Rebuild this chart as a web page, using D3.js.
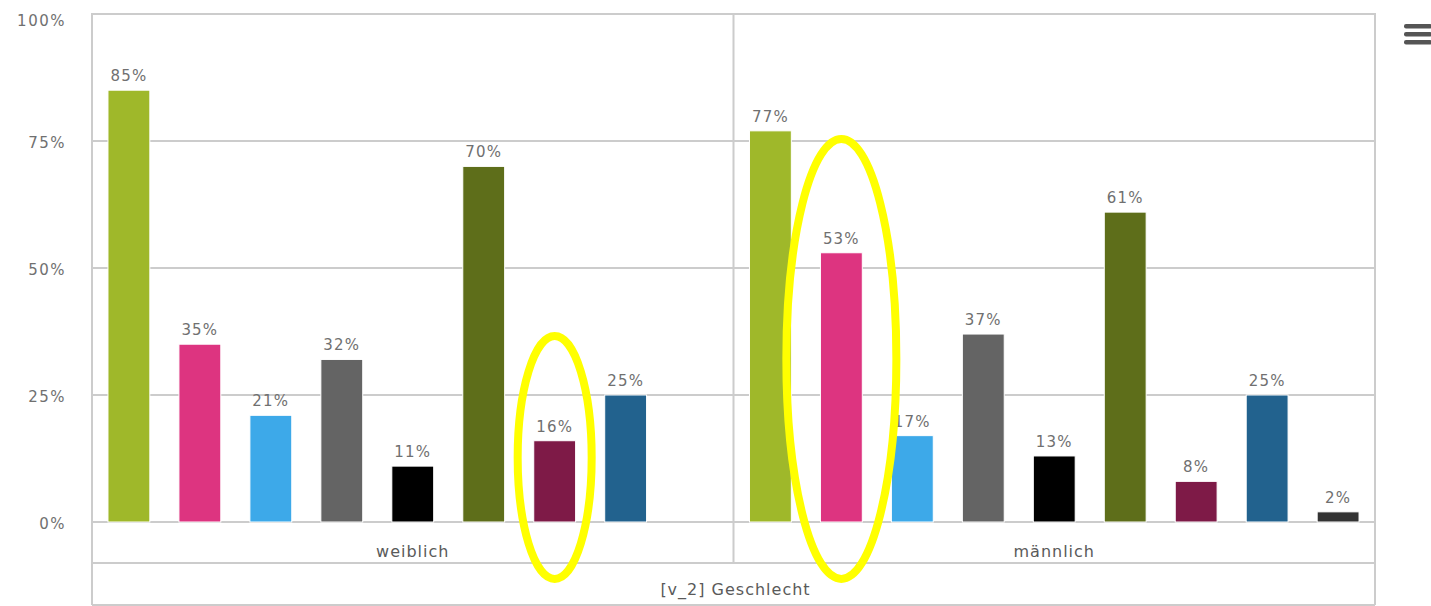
<!DOCTYPE html>
<html>
<head>
<meta charset="utf-8">
<script src="https://cdn.jsdelivr.net/npm/d3@7"></script>
<style>
  html, body { margin: 0; padding: 0; background: #fff; }
  svg text { font-family: "DejaVu Sans", sans-serif; }
</style>
</head>
<body>
<svg id="chart" width="1431" height="606"></svg>
<script>
// ---- data ----
const groups = ["weiblich", "männlich"];
const seriesNames = ["s1", "s2", "s3", "s4", "s5", "s6", "s7", "s8", "s9"];
const seriesColors = ["#9fb82a", "#dd3480", "#3da9e9", "#646464", "#000000", "#5e6e1a", "#7e1a47", "#22628e", "#333333"];
const valuesWeiblich = [85, 35, 21, 32, 11, 70, 16, 25, null];
const valuesMaennlich = [77, 53, 17, 37, 13, 61, 8, 25, 2];
const yTicks = [0, 25, 50, 75, 100];
const axisTitle = "[v_2] Geschlecht";
// annotation ellipses: group, series, y-extent in percent units
const highlights = [
  { group: "weiblich", series: "s7", yTop: 36.6, yBottom: -11.2, halfWidth: 37 },
  { group: "männlich", series: "s2", yTop: 75.4, yBottom: -11.2, halfWidth: 55 }
];

const table = [];
groups.forEach((g, gi) => {
  const vals = gi === 0 ? valuesWeiblich : valuesMaennlich;
  seriesNames.forEach((s, si) => table.push({ group: g, series: s, value: vals[si], color: seriesColors[si] }));
});

// ---- layout ----
const svg = d3.select("#chart");
const pLeft = 92, pRight = 1375, pTop = 14, pBottom = 522;
const row1 = 563, row2 = 605;

const x0 = d3.scaleBand().domain(groups).range([pLeft, pRight]).padding(0);
const x1 = d3.scaleBand().domain(seriesNames).range([0, x0.bandwidth()]).paddingInner(0.41).paddingOuter(0.225);
const y = d3.scaleLinear().domain([0, 100]).range([pBottom, pTop]);

const grid = "#cccccc";
const textCol = "#707070";

// gridlines
svg.append("g").selectAll("line").data(yTicks.filter(t => t > 0 && t < 100)).join("line")
  .attr("x1", pLeft).attr("x2", pRight)
  .attr("y1", d => y(d)).attr("y2", d => y(d))
  .attr("stroke", grid).attr("stroke-width", 2);

// plot frame
svg.append("rect").attr("x", pLeft).attr("y", pTop).attr("width", pRight - pLeft).attr("height", pBottom - pTop)
  .attr("fill", "none").attr("stroke", grid).attr("stroke-width", 2);

// group dividers (extend into first category row)
svg.append("g").selectAll("line").data(groups.slice(1)).join("line")
  .attr("x1", d => x0(d)).attr("x2", d => x0(d))
  .attr("y1", pTop).attr("y2", row1)
  .attr("stroke", grid).attr("stroke-width", 2);

// category rows
svg.append("line").attr("x1", pLeft).attr("x2", pLeft).attr("y1", pBottom).attr("y2", row2).attr("stroke", grid).attr("stroke-width", 2);
svg.append("line").attr("x1", pRight).attr("x2", pRight).attr("y1", pBottom).attr("y2", row2).attr("stroke", grid).attr("stroke-width", 2);
svg.append("line").attr("x1", pLeft).attr("x2", pRight).attr("y1", row1).attr("y2", row1).attr("stroke", grid).attr("stroke-width", 2);
svg.append("line").attr("x1", pLeft).attr("x2", pRight).attr("y1", row2).attr("y2", row2).attr("stroke", grid).attr("stroke-width", 2);

// y axis labels
const yAxis = d3.axisLeft(y).tickValues(yTicks).tickFormat(d => d + "%").tickSize(0).tickPadding(0);
const ya = svg.append("g").attr("transform", `translate(${66},0)`).call(yAxis);
ya.select(".domain").remove();
ya.selectAll("text").attr("font-size", 15).attr("fill", textCol)
  .attr("font-family", "DejaVu Sans, sans-serif").style("letter-spacing", "1.5px")
  .attr("dy", d => d === 100 ? "0.75em" : "0.45em");

// bars
const bars = table.filter(d => d.value != null);
svg.append("g").selectAll("rect").data(bars).join("rect")
  .attr("x", d => x0(d.group) + x1(d.series))
  .attr("width", x1.bandwidth())
  .attr("y", d => y(d.value))
  .attr("height", d => y(0) - y(d.value))
  .attr("fill", d => d.color)
  .attr("stroke", "#ffffff").attr("stroke-width", 1);

// bar value labels
svg.append("g").selectAll("text").data(bars).join("text")
  .attr("x", d => x0(d.group) + x1(d.series) + x1.bandwidth() / 2)
  .attr("y", d => y(d.value) - 9)
  .attr("text-anchor", "middle")
  .attr("font-size", 15).attr("fill", textCol)
  .style("letter-spacing", "1.2px")
  .text(d => d.value + "%");

// group labels
svg.append("g").selectAll("text").data(groups).join("text")
  .attr("x", d => x0(d) + x0.bandwidth() / 2)
  .attr("y", 557)
  .attr("text-anchor", "middle")
  .attr("font-size", 16).attr("fill", "#5a5a5a")
  .style("letter-spacing", "1px")
  .text(d => d);

svg.append("text")
  .attr("x", (pLeft + pRight) / 2 + 2).attr("y", 595)
  .attr("text-anchor", "middle")
  .attr("font-size", 16).attr("fill", "#5a5a5a")
  .style("letter-spacing", "1px")
  .text(axisTitle);

// menu icon
const menu = svg.append("g");
[0, 1, 2].forEach(i => {
  menu.append("rect").attr("x", 1404).attr("y", 24 + i * 8).attr("width", 28).attr("height", 4.5)
    .attr("rx", 2).attr("fill", "#555");
});

// yellow highlight ellipses
svg.append("g").selectAll("ellipse").data(highlights).join("ellipse")
  .attr("cx", d => x0(d.group) + x1(d.series) + x1.bandwidth() / 2)
  .attr("cy", d => (y(d.yTop) + y(d.yBottom)) / 2)
  .attr("rx", d => d.halfWidth)
  .attr("ry", d => (y(d.yBottom) - y(d.yTop)) / 2)
  .attr("fill", "none").attr("stroke", "#ffff00").attr("stroke-width", 8);
</script>
</body>
</html>
